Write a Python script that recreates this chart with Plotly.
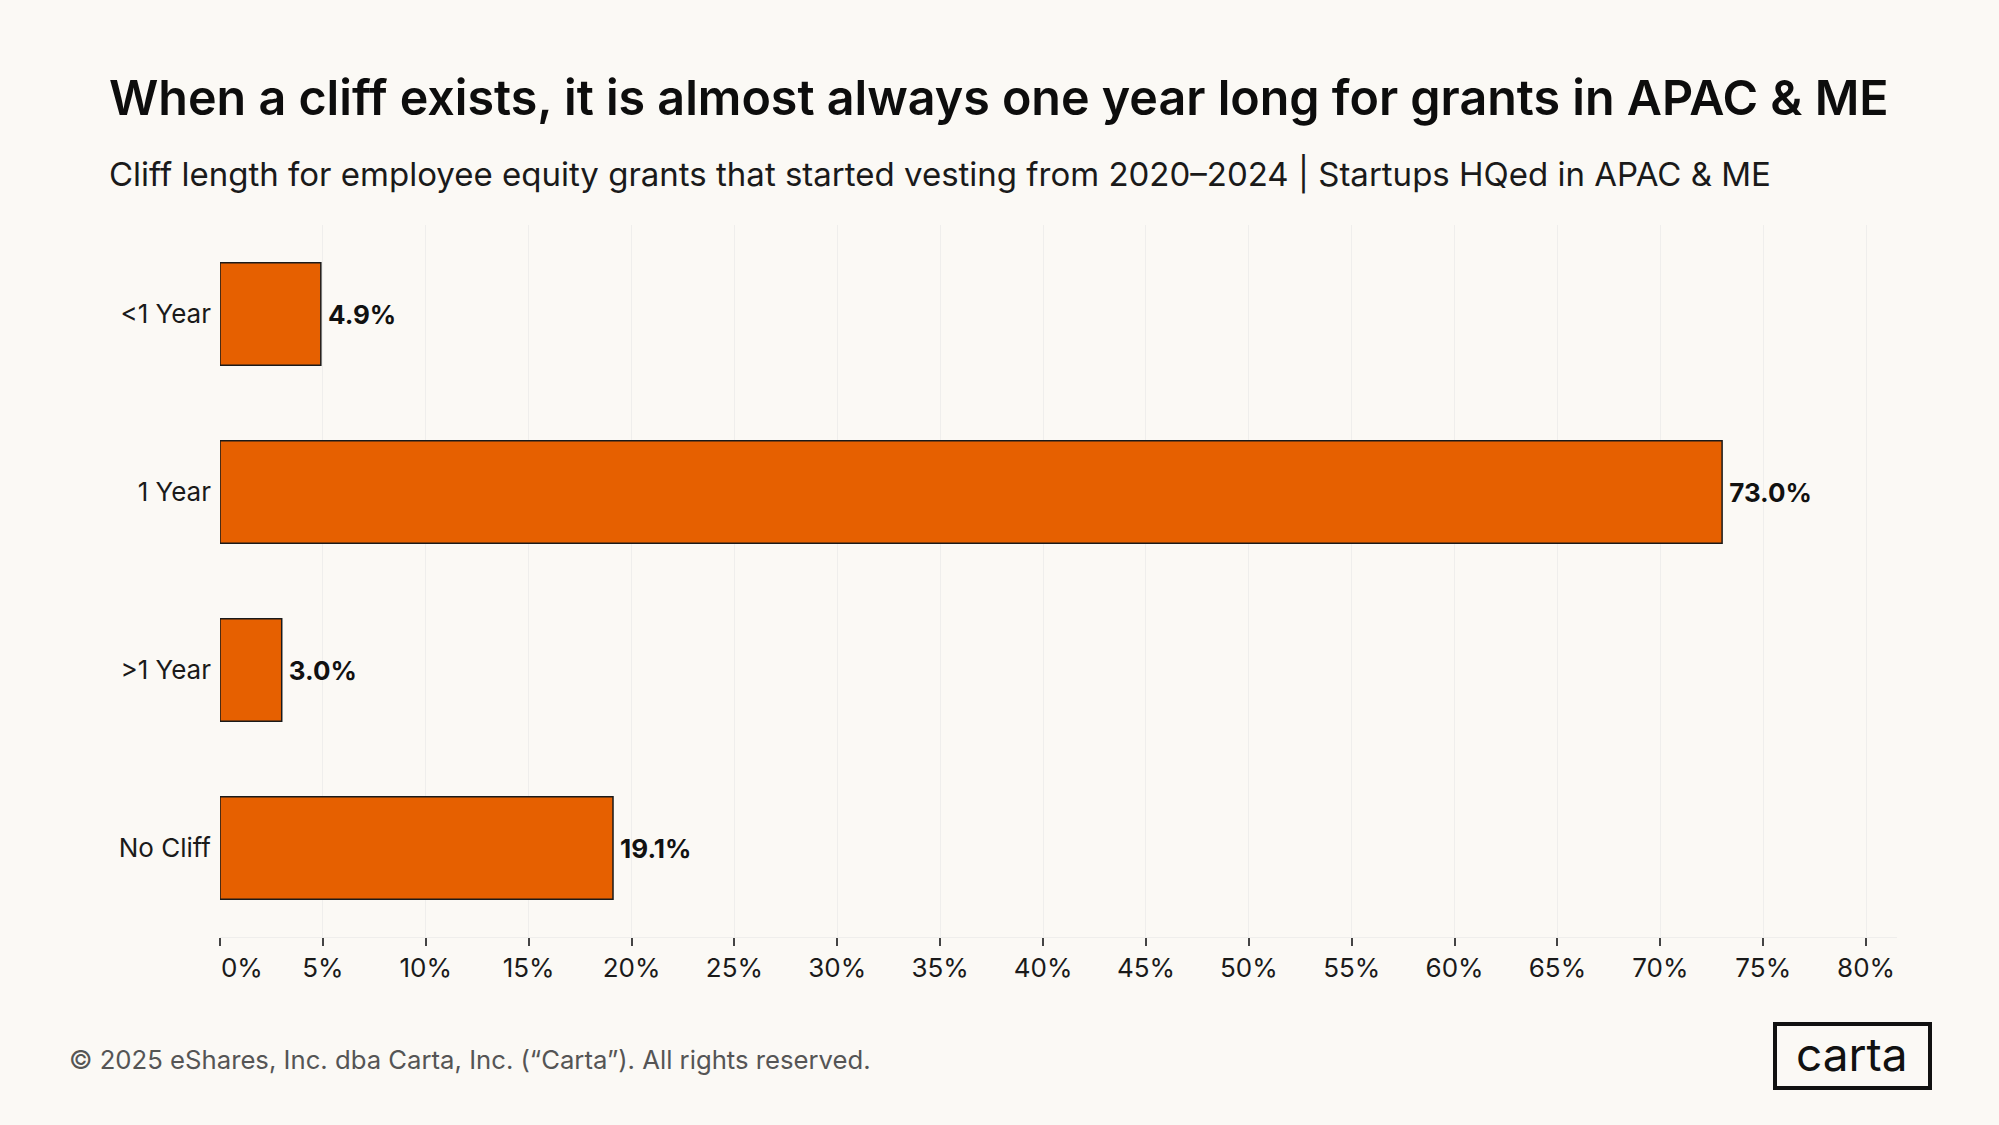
import plotly.graph_objects as go

# ---- data ----
categories = ["<1 Year", "1 Year", ">1 Year", "No Cliff"]
values = [4.9, 73.0, 3.0, 19.1]
tick_vals = [0, 5, 10, 15, 20, 25, 30, 35, 40, 45, 50, 55, 60, 65, 70, 75, 80]
tick_text = ["\u00a0\u00a0\u00a0\u00a0\u00a0\u00a00%"] + [f"{v}%" for v in tick_vals[1:]]

title = "When a cliff exists, it is almost always one year long for grants in APAC & ME"
subtitle = "Cliff length for employee equity grants that started vesting from 2020\u20132024 | Startups HQed in APAC & ME"
footer = "\u00a9 2025 eShares, Inc. dba Carta, Inc. (\u201cCarta\u201d). All rights reserved."

# ---- layout geometry (pixels) ----
W, H = 1999, 1125
L, R, T, B = 220, 1897, 225, 937
PW, PH = R - L, B - T


def px_x(x):
    return (x - L) / PW


def px_y(y):
    return (B - y) / PH


BG = "#FBF9F5"
ORANGE = "#E66000"
FONT = "Inter"

fig = go.Figure(
    go.Bar(
        y=categories,
        x=values,
        orientation="h",
        marker=dict(color=ORANGE, line=dict(color="#1a1a1a", width=1.5)),
        texttemplate="\u2009%{x:.1f}%",
        textposition="outside",
        textfont=dict(family=FONT, size=26, color="#111111", weight=700),
        cliponaxis=False,
        hoverinfo="skip",
    )
)

annotations = [
    dict(text=title, x=px_x(107), y=px_y(98), xref="paper", yref="paper",
         xanchor="left", yanchor="middle", showarrow=False,
         font=dict(family=FONT, size=48.4, color="#0d0d0d", weight=600)),
    dict(text=subtitle, x=px_x(107), y=px_y(174), xref="paper", yref="paper",
         xanchor="left", yanchor="middle", showarrow=False,
         font=dict(family=FONT, size=33, color="#1a1a1a")),
    dict(text=footer, x=px_x(67), y=px_y(1059), xref="paper", yref="paper",
         xanchor="left", yanchor="middle", showarrow=False,
         font=dict(family=FONT, size=25.7, color="#555555")),
    dict(text="carta", x=px_x(1852), y=px_y(1054), xref="paper", yref="paper",
         xanchor="center", yanchor="middle", showarrow=False,
         font=dict(family=FONT, size=46, color="#111111")),
]

shapes = [
    dict(type="rect", xref="paper", yref="paper",
         x0=px_x(1775), x1=px_x(1930), y0=px_y(1024), y1=px_y(1088),
         line=dict(color="#111111", width=4), fillcolor="rgba(0,0,0,0)"),
]

fig.update_layout(
    width=W, height=H,
    margin=dict(l=L, r=W - R, t=T, b=H - B, pad=0),
    paper_bgcolor=BG, plot_bgcolor=BG,
    bargap=0.425,
    showlegend=False,
    annotations=annotations,
    shapes=shapes,
    font=dict(family=FONT),
    xaxis=dict(
        range=[0, 81.5],
        tickvals=tick_vals, ticktext=tick_text,
        showgrid=True, gridcolor="#EFEEEC", gridwidth=1,
        zeroline=False,
        showline=True, linecolor="#EFEEEC", linewidth=1,
        ticks="outside", ticklen=8, tickwidth=1.5, tickcolor="#444444",
        tickfont=dict(family=FONT, size=26, color="#1a1a1a"),
        fixedrange=True,
    ),
    yaxis=dict(
        categoryorder="array", categoryarray=categories,
        autorange="reversed",
        showgrid=False, zeroline=False, showline=False,
        ticks="", ticklabelstandoff=8,
        tickfont=dict(family=FONT, size=26, color="#1a1a1a"),
        fixedrange=True,
    ),
)

fig.write_html("out.html", config={"displayModeBar": False},
               post_script="document.body.style.margin='0';document.body.style.background='%s';" % BG)
